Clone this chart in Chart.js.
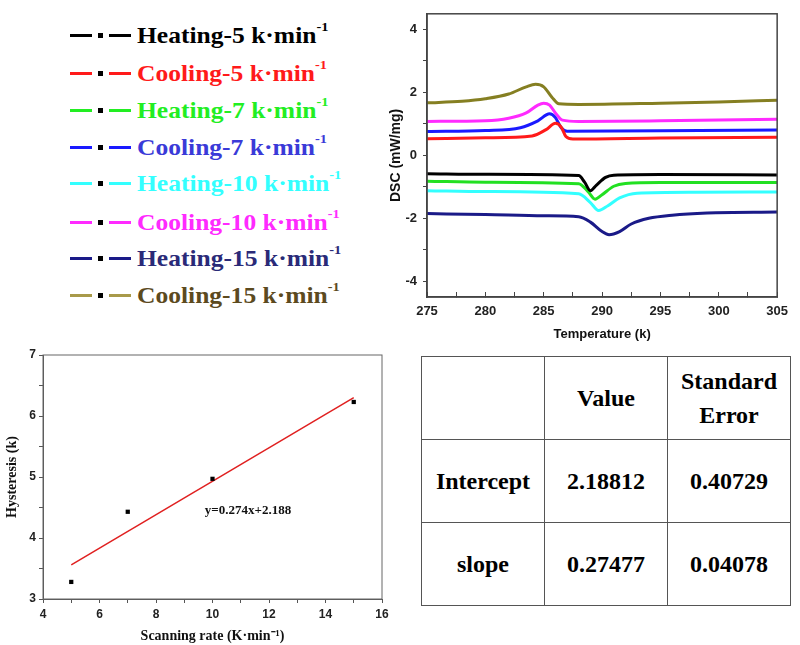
<!DOCTYPE html>
<html>
<head>
<meta charset="utf-8">
<script src="https://cdn.jsdelivr.net/npm/chart.js@4.4.0/dist/chart.umd.min.js"></script>
<style>
  body { margin: 0; background: #fff; width: 800px; height: 645px; position: relative; overflow: hidden; }
  .box { position: absolute; }
  #legend { position: absolute; left: 0; top: 0; width: 380px; height: 320px; }
  .row { position: absolute; left: 70px; height: 30px; display: flex; align-items: center;
         font: bold 23px "Liberation Serif", "Times New Roman", serif; white-space: nowrap; }
  .seg { width: 22px; height: 3px; display: inline-block; }
  .sq { width: 5px; height: 5px; background: #000; display: inline-block; margin: 0 6px; }
  .row span.txt { margin-left: 6px; display: inline-block; transform: scaleX(1.11); transform-origin: left center; }
  .row sup { font-size: 13px; position: relative; top: -3px; }
  table { position: absolute; left: 421px; top: 356px; width: 370px; height: 250px;
          border-collapse: collapse; table-layout: fixed;
          font: bold 24px "Liberation Serif", "Times New Roman", serif; }
  tr { height: 83px; }
  td { border: 1.5px solid #555; text-align: center; width: 33%; line-height: 34px; padding: 0; }
</style>
</head>
<body>
<div id="legend"></div>

<div class="box" style="left:380px; top:0px; width:420px; height:345px;">
  <canvas id="dscChart"></canvas>
</div>

<div class="box" style="left:0px; top:330px; width:400px; height:315px;">
  <canvas id="fitChart"></canvas>
</div>

<table>
  <tr><td></td><td>Value</td><td>Standard<br>Error</td></tr>
  <tr><td>Intercept</td><td>2.18812</td><td>0.40729</td></tr>
  <tr><td>slope</td><td>0.27477</td><td>0.04078</td></tr>
</table>

<script>
// DSC curves (temperature in k, DSC in mW/mg)
const heat5T  = [275, 280, 288, 288.5, 289, 289.5, 290.3, 291, 295, 305];
const heat5Y  = [-0.58, -0.60, -0.64, -0.85, -1.12, -0.95, -0.70, -0.63, -0.61, -0.62];
const cool5T  = [275, 280, 284, 285.2, 286, 286.5, 286.9, 287.5, 295, 305];
const cool5Y  = [0.53, 0.56, 0.62, 0.82, 1.02, 0.90, 0.60, 0.52, 0.55, 0.58];
const heat7T  = [275, 280, 288, 288.8, 289.4, 290, 291, 292, 295, 305];
const heat7Y  = [-0.82, -0.85, -0.90, -1.15, -1.39, -1.25, -0.98, -0.89, -0.86, -0.86];
const cool7T  = [275, 280, 283, 284.5, 285.5, 286, 286.5, 287, 295, 305];
const cool7Y  = [0.76, 0.79, 0.88, 1.10, 1.32, 1.20, 0.88, 0.77, 0.78, 0.81];
const heat10T = [275, 280, 288, 289, 289.7, 290.5, 291.5, 293, 298, 305];
const heat10Y = [-1.12, -1.15, -1.22, -1.50, -1.75, -1.60, -1.35, -1.20, -1.17, -1.16];
const cool10T = [275, 280, 282, 283.5, 284.5, 285, 285.5, 286, 286.6, 288, 295, 305];
const cool10Y = [1.08, 1.10, 1.18, 1.35, 1.60, 1.66, 1.60, 1.35, 1.12, 1.08, 1.10, 1.15];
const heat15T = [275, 280, 285, 288, 289, 290, 290.6, 291.5, 292.5, 294, 296, 299, 305];
const heat15Y = [-1.85, -1.88, -1.92, -1.95, -2.12, -2.42, -2.52, -2.42, -2.18, -2.00, -1.90, -1.83, -1.80];
const cool15T = [275, 278, 280, 282, 283.5, 284.3, 285, 285.7, 286.3, 288, 295, 300, 305];
const cool15Y = [1.67, 1.72, 1.80, 1.95, 2.18, 2.26, 2.18, 1.85, 1.64, 1.62, 1.66, 1.70, 1.75];

const seriesNames  = ['Heating-5', 'Cooling-5', 'Heating-7', 'Cooling-7', 'Heating-10', 'Cooling-10', 'Heating-15', 'Cooling-15'];
const lineColors   = ['#000000', '#ff1a1a', '#22e022', '#1a1aff', '#33ffff', '#ff2aff', '#1a1a88', '#857f22'];
const legendLines  = ['#000000', '#ff1a1a', '#22ee22', '#1a1aff', '#33ffff', '#ff2aff', '#1a1a88', '#a89a4a'];
const legendText   = ['#000000', '#ff1a1a', '#22ee22', '#3a3ad8', '#33ffff', '#ff2aff', '#2a2a78', '#5c4a1e'];
const seriesT = [heat5T, cool5T, heat7T, cool7T, heat10T, cool10T, heat15T, cool15T];
const seriesY = [heat5Y, cool5Y, heat7Y, cool7Y, heat10Y, cool10Y, heat15Y, cool15Y];

// hysteresis vs scanning rate
const scanRate   = [5, 7, 10, 15];
const hysteresis = [3.28, 4.43, 4.97, 6.23];
const fitX = [5, 15];
const fitY = [3.56, 6.30];
const fitLabel = 'y=0.274x+2.188';

// legend
const legend = document.getElementById('legend');
const legendTops = [20, 58, 95, 132, 168, 207, 243, 280];
seriesNames.forEach(function (name, i) {
    const row = document.createElement('div');
    row.className = 'row';
    row.style.top = legendTops[i] + 'px';
    row.innerHTML =
        '<span class="seg" style="background:' + legendLines[i] + '"></span>' +
        '<span class="sq"></span>' +
        '<span class="seg" style="background:' + legendLines[i] + '"></span>' +
        '<span class="txt" style="color:' + legendText[i] + '">' + name + ' k·min<sup>-1</sup></span>';
    legend.appendChild(row);
});

const frame = {
    id: 'frame',
    afterDatasetsDraw(chart, args, opts) {
        const a = chart.chartArea;
        const c = chart.ctx;
        c.save();
        c.strokeStyle = opts.color;
        c.lineWidth = opts.width;
        c.strokeRect(a.left, a.top, a.right - a.left, a.bottom - a.top);
        c.restore();
    }
};

const sansBold = size => ({ family: 'Liberation Sans, Arial, sans-serif', weight: 'bold', size: size });
const serifBold = size => ({ family: 'Liberation Serif, Times New Roman, serif', weight: 'bold', size: size });
const majorOnly = ctx => (ctx.tick && Number.isInteger(ctx.tick.value) ? '#444' : 'rgba(0,0,0,0)');

new Chart(document.getElementById('dscChart'), {
    type: 'line',
    data: {
        datasets: seriesNames.map(function (name, i) {
            return {
                label: name,
                data: seriesT[i].map((t, j) => ({ x: t, y: seriesY[i][j] })),
                borderColor: lineColors[i],
                borderWidth: 3,
                pointRadius: 0,
                cubicInterpolationMode: 'monotone'
            };
        })
    },
    plugins: [frame],
    options: {
        responsive: true,
        maintainAspectRatio: false,
        animation: false,
        layout: { padding: { top: 12, right: 13, left: 0, bottom: 0 } },
        plugins: {
            legend: { display: false },
            tooltip: { enabled: false },
            frame: { color: '#444', width: 1.5 }
        },
        scales: {
            x: {
                type: 'linear',
                min: 275, max: 305,
                afterFit: s => { s.height = 48; },
                ticks: {
                    stepSize: 2.5, autoSkip: false, maxRotation: 0, padding: 12,
                    color: '#222', font: sansBold(13),
                    callback: v => (v % 5 === 0 ? v : '')
                },
                grid: { drawOnChartArea: false, tickLength: -5, color: '#444' },
                border: { color: '#444', width: 1.5 },
                title: {
                    display: true, text: 'Temperature (k)', color: '#111',
                    font: sansBold(13),
                    padding: { top: 0, bottom: 3 }
                }
            },
            y: {
                min: -4.5, max: 4.5,
                afterFit: s => { s.width = 47; },
                ticks: {
                    stepSize: 0.5, autoSkip: false, padding: 6,
                    color: '#222', font: sansBold(13),
                    callback: v => (Number.isInteger(v) && v % 2 === 0 ? v : '')
                },
                grid: { drawOnChartArea: false, tickLength: 4, color: '#444', tickColor: majorOnly },
                border: { color: '#444', width: 1.5 },
                title: {
                    display: true, text: 'DSC (mW/mg)', color: '#111',
                    font: sansBold(14),
                    padding: { top: 8, bottom: 0 }
                }
            }
        }
    }
});

const eqText = {
    id: 'eqText',
    afterDatasetsDraw(chart, args, opts) {
        const c = chart.ctx;
        c.save();
        c.font = 'bold 13px "Liberation Serif", "Times New Roman", serif';
        c.fillStyle = '#111';
        c.textBaseline = 'middle';
        c.fillText(opts.text, chart.scales.x.getPixelForValue(opts.x), chart.scales.y.getPixelForValue(opts.y));
        c.restore();
    }
};

new Chart(document.getElementById('fitChart'), {
    type: 'scatter',
    data: {
        datasets: [{
            label: 'Hysteresis',
            data: scanRate.map((r, i) => ({ x: r, y: hysteresis[i] })),
            pointStyle: 'rect',
            pointRadius: 3,
            backgroundColor: '#000',
            borderColor: '#000',
            borderWidth: 0
        }, {
            type: 'line',
            label: 'Linear fit',
            data: fitX.map((r, i) => ({ x: r, y: fitY[i] })),
            borderColor: '#e02020',
            borderWidth: 1.5,
            pointRadius: 0
        }]
    },
    plugins: [frame, eqText],
    options: {
        responsive: true,
        maintainAspectRatio: false,
        animation: false,
        layout: { padding: { top: 25, right: 18, left: 0, bottom: 0 } },
        plugins: {
            legend: { display: false },
            tooltip: { enabled: false },
            frame: { color: '#666', width: 1 },
            eqText: { text: fitLabel, x: 9.73, y: 4.45 }
        },
        scales: {
            x: {
                type: 'linear',
                min: 4, max: 16,
                afterFit: s => { s.height = 46; },
                ticks: {
                    stepSize: 1, autoSkip: false, maxRotation: 0, padding: 4,
                    color: '#222', font: sansBold(12),
                    callback: v => (v % 2 === 0 ? v : '')
                },
                grid: { drawOnChartArea: false, tickLength: 4, color: '#555' },
                border: { color: '#555', width: 1 },
                title: {
                    display: true, text: 'Scanning rate (K·min⁻¹)', color: '#111',
                    font: serifBold(14),
                    padding: { top: 0, bottom: 0 }
                }
            },
            y: {
                min: 3, max: 7,
                afterFit: s => { s.width = 43; },
                ticks: {
                    stepSize: 0.5, autoSkip: false, padding: 3,
                    color: '#222', font: sansBold(12),
                    callback: v => (Number.isInteger(v) ? v : '')
                },
                grid: { drawOnChartArea: false, tickLength: 4, color: '#555' },
                border: { color: '#555', width: 1 },
                title: {
                    display: true, text: 'Hysteresis (k)', color: '#111',
                    font: serifBold(14),
                    padding: { top: 4, bottom: 0 }
                }
            }
        }
    }
});
</script>
</body>
</html>
